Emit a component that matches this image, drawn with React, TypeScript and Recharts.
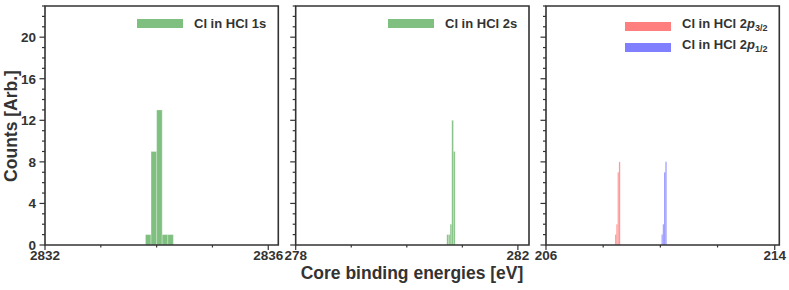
import React from 'react'
import { ComposedChart, XAxis, YAxis, ReferenceArea } from 'recharts'

document.body.style.margin = '0'

// histogram bins (bin start, count)
const cl1sStart = [2833.8, 2833.9, 2834.0, 2834.1, 2834.2]
const cl1sCount = [1, 9, 13, 1, 1]
const cl1sWidth = 0.1

const cl2sStart = [280.72, 280.75, 280.78, 280.81, 280.84]
const cl2sCount = [1, 1, 2, 12, 9]
const cl2sWidth = 0.03

const cl2p32Start = [208.415, 208.46, 208.505, 208.55]
const cl2p32Count = [1, 2, 7, 8]
const cl2p12Start = [210.04, 210.085, 210.13, 210.175]
const cl2p12Count = [1, 2, 7, 8]
const cl2pWidth = 0.045

const yTicks = [0, 1, 2, 3, 4, 5, 6, 7, 8, 9, 10, 11, 12, 13, 14, 15, 16, 17, 18, 19, 20, 21, 22, 23]
const yMajor = [0, 4, 8, 12, 16, 20]

const x1Ticks = [2832, 2833, 2834, 2835, 2836]
const x1Major = [2832, 2836]
const x2Ticks = [278, 279, 280, 281, 282]
const x2Major = [278, 282]
const x3Ticks = [206, 208, 210, 212, 214]
const x3Major = [206, 214]

const axisColor = '#333333'
const textColor = '#333333'
const fontFamily = "'Liberation Sans', Arial, sans-serif"
const green = '#008000'
const red = '#ff0000'
const blue = '#0000ff'

interface Hist {
  start: number[]
  count: number[]
  width: number
  color: string
}

interface PanelProps {
  left: number
  yAxisWidth: number
  domain: [number, number]
  xTicks: number[]
  xMajor: number[]
  hists: Hist[]
  yLabels: boolean
}

function YTick(props: any) {
  const { x, y, payload, labels } = props
  const major = yMajor.includes(payload.value)
  return (
    <g>
      <line x1={x} x2={x - (major ? 5.5 : 3)} y1={y} y2={y} stroke={axisColor} strokeWidth={1.2} />
      {major && labels && (
        <text x={x - 9} y={y} dy="0.36em" textAnchor="end" fontSize={13.5} fontWeight="bold"
          fontFamily={fontFamily} fill={textColor}>
          {payload.value}
        </text>
      )}
    </g>
  )
}

function XTick(props: any) {
  const { x, y, payload, major } = props
  const isMajor = major.includes(payload.value)
  return (
    <g>
      <line x1={x} x2={x} y1={y} y2={y + (isMajor ? 5 : 2.5)} stroke={axisColor} strokeWidth={1.2} />
      {isMajor && (
        <text x={x} y={y + 15} textAnchor="middle" fontSize={13.5} fontWeight="bold"
          fontFamily={fontFamily} fill={textColor}>
          {payload.value}
        </text>
      )}
    </g>
  )
}

function Panel({ left, yAxisWidth, domain, xTicks, xMajor, hists, yLabels }: PanelProps) {
  return (
    <div style={{ position: 'absolute', left, top: 0 }}>
      <ComposedChart width={290} height={290} margin={{ top: 6, right: 290 - yAxisWidth - 233.3, bottom: 0, left: 0 }}
        data={[]}>
        <XAxis type="number" dataKey="x" domain={domain} ticks={xTicks} interval={0} allowDataOverflow
          height={45} axisLine={false} tickLine={false} tickSize={0} tickMargin={0}
          tick={(p: any) => <XTick {...p} major={xMajor} />} />
        <YAxis type="number" domain={[0, 23]} ticks={yTicks} interval={0} allowDataOverflow
          width={yAxisWidth} axisLine={false} tickLine={false} tickSize={0} tickMargin={0}
          tick={(p: any) => <YTick {...p} labels={yLabels} />} />
        {hists.map((h, hi) =>
          h.start.map((s, i) => (
            <ReferenceArea key={`${hi}-${i}`} x1={s} x2={s + h.width} y1={0} y2={h.count[i]}
              fill={h.color} fillOpacity={0.5} stroke="#ffffff" strokeOpacity={0.5} strokeWidth={0.6}
              ifOverflow="visible" />
          ))
        )}
        <ReferenceArea x1={domain[0]} x2={domain[1]} y1={0} y2={23} fill="none" stroke={axisColor}
          strokeWidth={1.6} ifOverflow="visible" />
      </ComposedChart>
    </div>
  )
}

const legendText: React.CSSProperties = {
  fontFamily, fontWeight: 'bold', fontSize: 13, color: textColor, whiteSpace: 'nowrap', lineHeight: '13px'
}

function LegendRow({ x, y, color, children }: { x: number, y: number, color: string, children: React.ReactNode }) {
  return (
    <div style={{ position: 'absolute', left: x, top: y, display: 'flex', alignItems: 'center' }}>
      <span style={{ display: 'inline-block', width: 46, height: 9, background: color, opacity: 0.5 }} />
      <span style={{ ...legendText, marginLeft: 11 }}>{children}</span>
    </div>
  )
}

export default function App() {
  return (
    <div style={{ position: 'relative', width: 789, height: 290, background: '#fff', overflow: 'hidden' }}>
      <Panel left={0} yAxisWidth={45} domain={[2832, 2836.18]} xTicks={x1Ticks} xMajor={x1Major} yLabels
        hists={[{ start: cl1sStart, count: cl1sCount, width: cl1sWidth, color: green }]} />
      <Panel left={250} yAxisWidth={45.7} domain={[278, 282.2]} xTicks={x2Ticks} xMajor={x2Major} yLabels={false}
        hists={[{ start: cl2sStart, count: cl2sCount, width: cl2sWidth, color: green }]} />
      <Panel left={500} yAxisWidth={46} domain={[206, 214.16]} xTicks={x3Ticks} xMajor={x3Major} yLabels={false}
        hists={[
          { start: cl2p32Start, count: cl2p32Count, width: cl2pWidth, color: red },
          { start: cl2p12Start, count: cl2p12Count, width: cl2pWidth, color: blue },
        ]} />

      <svg width={789} height={290} style={{ position: 'absolute', left: 0, top: 0, pointerEvents: 'none' }}>
        <text x={16.5} y={126} transform="rotate(-90 16.5 126)" textAnchor="middle" fontSize={17.5}
          fontWeight="bold" fontFamily={fontFamily} fill={textColor}>Counts [Arb.]</text>
        <text x={412} y={279} textAnchor="middle" fontSize={17.5} fontWeight="bold" fontFamily={fontFamily}
          fill={textColor}>Core binding energies [eV]</text>
      </svg>

      <LegendRow x={137} y={17} color={green}>Cl in HCl 1s</LegendRow>
      <LegendRow x={388} y={17} color={green}>Cl in HCl 2s</LegendRow>
      <LegendRow x={625} y={17} color={red}>Cl in HCl 2<i>p</i><sub style={{ fontSize: 9, verticalAlign: -3 }}>3/2</sub></LegendRow>
      <LegendRow x={625} y={38} color={blue}>Cl in HCl 2<i>p</i><sub style={{ fontSize: 9, verticalAlign: -3 }}>1/2</sub></LegendRow>
    </div>
  )
}
